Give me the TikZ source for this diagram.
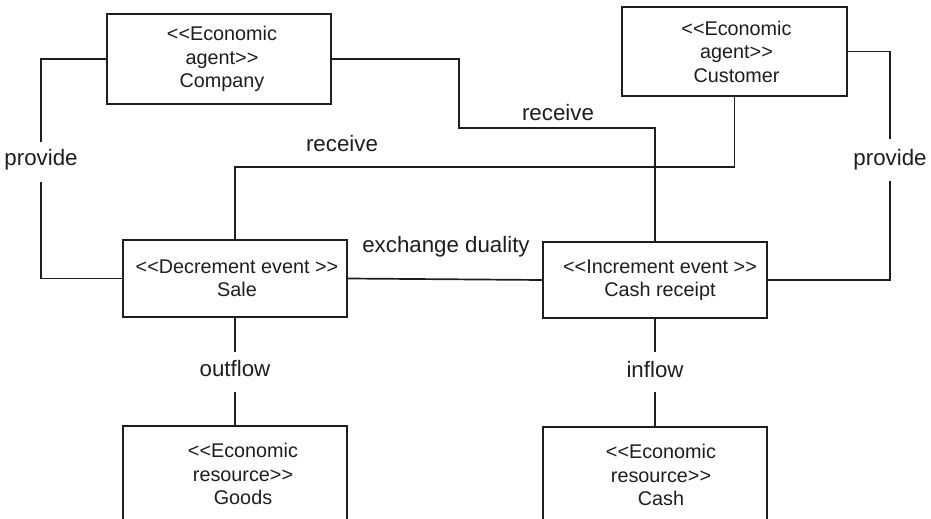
\documentclass[tikz,border=0pt]{standalone}
\usepackage{fontspec}
\setmainfont{Liberation Sans}[Ligatures=TeXOff]
\definecolor{ink}{RGB}{30,30,30}
\begin{document}
\begin{tikzpicture}[x=1pt,y=-1pt,
  box/.style={draw=ink,line width=1.7pt,rectangle,inner sep=0pt,minimum width=224pt},
  boxtext/.style={text=ink,align=center,inner sep=0pt,font=\fontsize{19.8}{23.5}\selectfont},
  lbl/.style={text=ink,inner sep=0pt,font=\fontsize{22.3}{26}\selectfont},
  conn/.style={draw=ink,line width=1.7pt}]
\clip (0,0) rectangle (931,519);
\fill[white] (0,0) rectangle (931,519);
% boxes
\node[box,minimum height=90pt] (company) at (219,59) {};
\node[box,minimum width=225pt,minimum height=89pt] (customer) at (734.5,51.5) {};
\node[box,minimum height=77pt] (sale) at (235,278.5) {};
\node[box,minimum height=76pt] (receipt) at (655,280) {};
\node[box,minimum height=96pt] (goods) at (235,474) {};
\node[box,minimum height=96pt] (cash) at (655,475) {};
% box texts
\node[boxtext] (companyT) at ([xshift=3pt]company.center) {<<Economic\\agent>>\\Company};
\node[boxtext] (customerT) at ([xshift=2pt]customer.center) {<<Economic\\agent>>\\Customer};
\node[boxtext] (saleT) at ([xshift=2pt]sale.center) {<<Decrement event >>\\Sale};
\node[boxtext] (receiptT) at ([xshift=5pt]receipt.center) {<<Increment event >>\\Cash receipt};
\node[boxtext] (goodsT) at ([xshift=8pt]goods.center) {<<Economic\\resource>>\\Goods};
\node[boxtext] (cashT) at ([xshift=6pt]cash.center) {<<Economic\\resource>>\\Cash};
% labels that interrupt lines
\node[lbl,anchor=base,text height=23pt,text depth=17pt] (provL) at (41,165) {provide};
\node[lbl,anchor=base,text height=26pt,text depth=16pt] (provR) at (890,165) {provide};
\node[lbl,anchor=base,text height=24pt,text depth=16pt] (outfl) at (235,376) {outflow};
\node[lbl,anchor=base,text height=25pt,text depth=15pt] (infl) at (655,377) {inflow};
% free labels
\node[lbl,anchor=base] (recv1) at (558,120) {receive};
\node[lbl,anchor=base] (recv2) at (342,151) {receive};
\node[lbl,anchor=base] (exch) at (446,252) {exchange duality};
% connectors
\coordinate (c1) at (459,128);
\coordinate (c2) at (235,167);
\draw[conn] (company.west) -| (provL.north);
\draw[conn] (provL.south) |- (sale.west);
\draw[conn] (company.east) -| (c1) -| (receipt.north);
\draw[conn] (customer.south) |- (c2) -- (sale.north);
\draw[conn] (customer.east) -| (provR.north);
\draw[conn] (provR.south) |- (receipt.east);
\draw[conn] (sale.east) -- (receipt.west);
\draw[conn] (sale.south) -- (outfl.north);
\draw[conn] (outfl.south) -- (goods.north);
\draw[conn] (receipt.south) -- (infl.north);
\draw[conn] (infl.south) -- (cash.north);
\end{tikzpicture}
\end{document}
